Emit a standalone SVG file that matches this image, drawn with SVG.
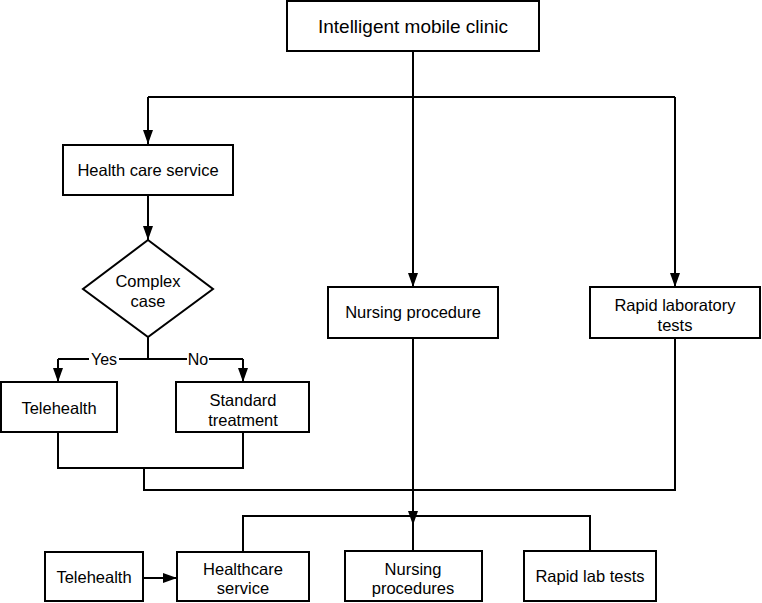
<svg xmlns="http://www.w3.org/2000/svg" width="762" height="603" viewBox="0 0 762 603">
<style>
.box{fill:#fff;stroke:#000;stroke-width:2}
.t{font-family:"Liberation Sans",Arial,sans-serif;font-size:16.5px;fill:#000;text-anchor:middle}
.title{font-size:19px}
.lbl{font-size:16px}
.c{fill:none;stroke:#000;stroke-width:2}
.bg{fill:#fff}
</style>
<defs>
<marker id="arr" viewBox="0 0 14 10" refX="14" refY="5" markerWidth="14" markerHeight="10" markerUnits="userSpaceOnUse" orient="auto">
<path d="M0,0 L14,5 L0,10 z" fill="#000"/>
</marker>
</defs>
<rect width="762" height="603" fill="#fff"/>
<g id="connectors">
<path class="c" d="M413,51 V97 M148,97 H675"/>
<path class="c" d="M148,97 V144" marker-end="url(#arr)"/>
<path class="c" d="M413,97 V287" marker-end="url(#arr)"/>
<path class="c" d="M675,97 V287" marker-end="url(#arr)"/>
<path class="c" d="M148,195 V240" marker-end="url(#arr)"/>
<path class="c" d="M148,337 V359 M58,359 H243"/>
<path class="c" d="M58,359 V382" marker-end="url(#arr)"/>
<path class="c" d="M243,359 V382" marker-end="url(#arr)"/>
<rect class="bg" x="89" y="350" width="30" height="18"/>
<rect class="bg" x="187" y="350" width="22" height="18"/>
<text class="t lbl" x="104" y="365">Yes</text>
<text class="t lbl" x="198" y="365">No</text>
<path class="c" d="M58,432 V468 H243 V432 M144,468 V490 H675 V338"/>
<path class="c" d="M413,338 V525" marker-end="url(#arr)"/>
<path class="c" d="M413,520 V551 M243,551 V516 H590 V551"/>
<path class="c" d="M143,578 H177" marker-end="url(#arr)"/>
</g>
<g id="n-title"><rect class="box" x="287" y="1" width="252" height="50"/><text class="t title" x="413" y="33">Intelligent mobile clinic</text></g>
<g id="n-hcs"><rect class="box" x="63" y="145" width="170" height="50"/><text class="t" x="148" y="176">Health care service</text></g>
<g id="n-complex"><polygon class="box" points="148,240 213,289 148,337 83,289"/><text class="t" x="148" y="287">Complex</text><text class="t" x="148" y="307">case</text></g>
<g id="n-nursing"><rect class="box" x="328" y="287" width="170" height="51"/><text class="t" x="413" y="318">Nursing procedure</text></g>
<g id="n-rapid"><rect class="box" x="590" y="287" width="170" height="51"/><text class="t" x="675" y="311">Rapid laboratory</text><text class="t" x="675" y="331">tests</text></g>
<g id="n-tele"><rect class="box" x="1" y="382" width="116" height="50"/><text class="t" x="59" y="414">Telehealth</text></g>
<g id="n-std"><rect class="box" x="176" y="382" width="133" height="50"/><text class="t" x="243" y="406">Standard</text><text class="t" x="243" y="426">treatment</text></g>
<g id="n-tele2"><rect class="box" x="45" y="552" width="98" height="49"/><text class="t" x="94" y="583">Telehealth</text></g>
<g id="n-hcs2"><rect class="box" x="177" y="552" width="132" height="49"/><text class="t" x="243" y="575">Healthcare</text><text class="t" x="243" y="594">service</text></g>
<g id="n-np"><rect class="box" x="345" y="551" width="137" height="50"/><text class="t" x="413" y="575">Nursing</text><text class="t" x="413" y="594">procedures</text></g>
<g id="n-rlt"><rect class="box" x="524" y="551" width="132" height="50"/><text class="t" x="590" y="582">Rapid lab tests</text></g>
</svg>
